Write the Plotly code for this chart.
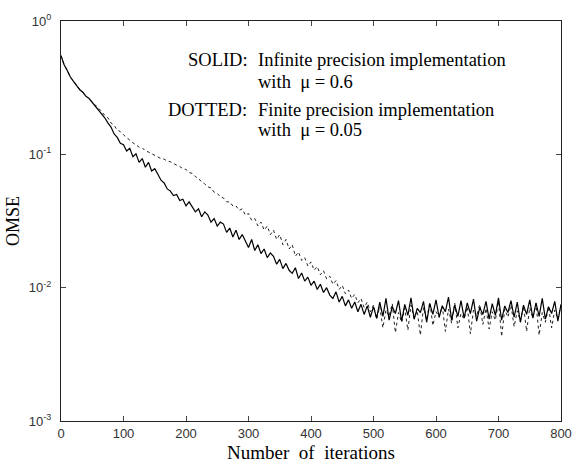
import plotly.graph_objects as go

# iterations sampled every 5 steps (0..800)
iterations = list(range(0, 805, 5))

# SOLID: infinite precision implementation, mu = 0.6
omse_infinite = [
    0.550, 0.470, 0.425, 0.380, 0.352, 0.330, 0.305, 0.292, 0.272, 0.262,
    0.245, 0.232, 0.218, 0.200, 0.188, 0.172, 0.160, 0.142, 0.134, 0.121,
    0.118, 0.106, 0.111, 0.096, 0.101, 0.087, 0.093, 0.080, 0.087, 0.075,
    0.078, 0.071, 0.064, 0.061, 0.055, 0.053, 0.049, 0.050, 0.045, 0.046,
    0.041, 0.044, 0.040, 0.037, 0.039, 0.034, 0.037, 0.035, 0.031, 0.033,
    0.029, 0.031, 0.030, 0.026, 0.028, 0.024, 0.027, 0.023, 0.025, 0.022,
    0.020, 0.023, 0.019, 0.021, 0.018, 0.0195, 0.0168, 0.0182, 0.0172, 0.0150,
    0.0163, 0.0139, 0.0152, 0.0135, 0.0128, 0.0141, 0.0117, 0.0129, 0.0112, 0.0120,
    0.0104, 0.0112, 0.0097, 0.0106, 0.0092, 0.0100, 0.0088, 0.0083, 0.0093, 0.0078,
    0.0086, 0.0073, 0.0081, 0.0070, 0.0078, 0.0066, 0.0075, 0.0063, 0.0073, 0.0060,
    0.0072,
    0.0059, 0.0078, 0.0061, 0.0083, 0.0057, 0.0072, 0.0064, 0.0080, 0.0056, 0.0075,
    0.0062, 0.0084, 0.0058, 0.0070, 0.0065, 0.0079, 0.0055, 0.0076, 0.0063, 0.0081,
    0.0060, 0.0073, 0.0066, 0.0085, 0.0057, 0.0074, 0.0061, 0.0080, 0.0059, 0.0077,
    0.0064, 0.0082, 0.0056, 0.0071, 0.0063, 0.0079, 0.0058, 0.0076, 0.0062, 0.0084,
    0.0057, 0.0073, 0.0065, 0.0080, 0.0060, 0.0078, 0.0055, 0.0074, 0.0063, 0.0081,
    0.0059, 0.0077, 0.0061, 0.0083, 0.0058, 0.0072, 0.0064, 0.0079, 0.0056, 0.0075,
]

# DOTTED: finite precision implementation, mu = 0.05
omse_finite = [
    0.550, 0.468, 0.428, 0.378, 0.355, 0.328, 0.308, 0.290, 0.275, 0.260,
    0.248, 0.232, 0.222, 0.210, 0.196, 0.188, 0.172, 0.165, 0.152, 0.148,
    0.140, 0.133, 0.128, 0.122, 0.118, 0.113, 0.112, 0.106, 0.104, 0.101,
    0.098, 0.096, 0.093, 0.092, 0.089, 0.088, 0.085, 0.083, 0.081, 0.078,
    0.077, 0.073, 0.072, 0.068, 0.066, 0.062, 0.060, 0.057, 0.056, 0.052,
    0.051, 0.048, 0.047, 0.044, 0.044, 0.041, 0.041, 0.038, 0.039, 0.035,
    0.036, 0.032, 0.033, 0.029, 0.031, 0.027, 0.029, 0.025, 0.027, 0.023,
    0.025, 0.021, 0.023, 0.0195, 0.021, 0.0172, 0.0185, 0.0160, 0.0168, 0.0145,
    0.0156, 0.0135, 0.0144, 0.0125, 0.0134, 0.0116, 0.0122, 0.0106, 0.0113, 0.0097,
    0.0104, 0.0090, 0.0096, 0.0083, 0.0089, 0.0077, 0.0083, 0.0071, 0.0078, 0.0066,
    0.0074,
    0.0058, 0.0072, 0.0050, 0.0068, 0.0061, 0.0076, 0.0046, 0.0065, 0.0055, 0.0070,
    0.0048, 0.0074, 0.0059, 0.0067, 0.0044, 0.0071, 0.0057, 0.0078, 0.0052, 0.0066,
    0.0060, 0.0073, 0.0047, 0.0069, 0.0054, 0.0077, 0.0050, 0.0064, 0.0058, 0.0072,
    0.0045, 0.0068, 0.0061, 0.0075, 0.0053, 0.0070, 0.0049, 0.0066, 0.0057, 0.0079,
    0.0043, 0.0069, 0.0060, 0.0074, 0.0051, 0.0067, 0.0056, 0.0073, 0.0047, 0.0071,
    0.0059, 0.0076, 0.0044, 0.0065, 0.0055, 0.0072, 0.0050, 0.0068, 0.0058, 0.0074,
]

x_ticks = [0, 100, 200, 300, 400, 500, 600, 700, 800]
y_ticks = [0.001, 0.01, 0.1, 1]
y_tick_labels = ["10<sup>-3</sup>", "10<sup>-2</sup>", "10<sup>-1</sup>", "10<sup>0</sup>"]

serif = "Liberation Serif, Times New Roman, serif"
sans = "Liberation Sans, Arial, sans-serif"

fig = go.Figure()
fig.add_trace(go.Scatter(x=iterations, y=omse_finite, mode="lines",
                         line=dict(color="#222", width=1, dash="dot"),
                         showlegend=False))
fig.add_trace(go.Scatter(x=iterations, y=omse_infinite, mode="lines",
                         line=dict(color="black", width=1.2),
                         showlegend=False))

fig.update_layout(
    width=584, height=472,
    margin=dict(l=57, r=13, t=16, b=50),
    paper_bgcolor="white", plot_bgcolor="white",
    xaxis=dict(range=[0, 800], tickvals=x_ticks, ticks="inside", ticklen=5,
               showline=True, linecolor="#222", linewidth=1, mirror="ticks",
               showgrid=False, zeroline=False,
               tickfont=dict(family=sans, size=13, color="#333"),
               title=dict(text="Number  of  iterations", standoff=6,
                          font=dict(family=serif, size=19, color="black"))),
    yaxis=dict(type="log", range=[-3, 0], tickvals=y_ticks, ticktext=y_tick_labels,
               ticks="inside", ticklen=5, showline=True, linecolor="#222",
               linewidth=1, mirror="ticks", showgrid=False, zeroline=False,
               ticklabelstandoff=6,
               tickfont=dict(family=sans, size=13, color="#333"),
               title=dict(text="OMSE", standoff=4,
                          font=dict(family=serif, size=18, color="black"))),
)

plot_l, plot_r, plot_t, plot_b = 57, 571, 16, 422
annots = [
    (185, 56, "SOLID:"),
    (257, 56, "Infinite precision implementation"),
    (257, 78, "with  \u03bc = 0.6"),
    (165, 106, "DOTTED:"),
    (257, 106, "Finite precision implementation"),
    (257, 127, "with  \u03bc = 0.05"),
]
for px, py, txt in annots:
    fig.add_annotation(x=(px - plot_l) / (plot_r - plot_l),
                       y=(plot_b - py) / (plot_b - plot_t),
                       xref="paper", yref="paper",
                       text=txt, showarrow=False, xanchor="left", yanchor="middle",
                       font=dict(family=serif, size=18.5, color="black"))

fig.write_html("out.html")
